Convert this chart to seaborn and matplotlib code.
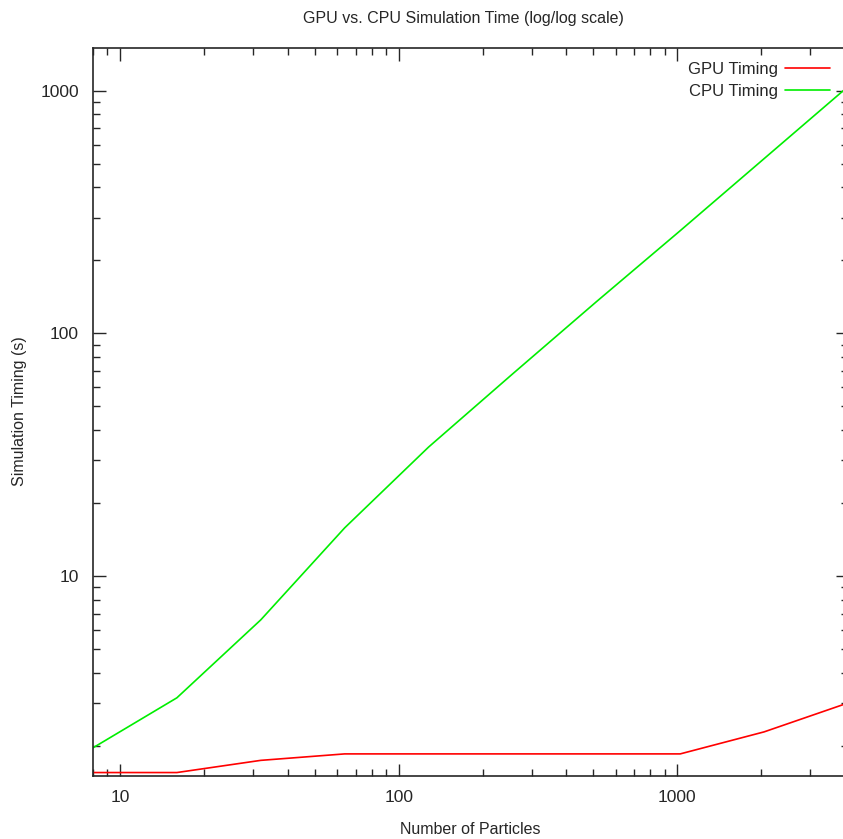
import numpy as np
import pandas as pd
import matplotlib
matplotlib.use("Agg")
import matplotlib.pyplot as plt
import seaborn as sns
from matplotlib.ticker import LogLocator, NullFormatter, FixedLocator

# particle counts and timings
particles = [8, 16, 32, 64, 128, 256, 512, 1024, 2048, 4096]
gpu_time = [1.55, 1.55, 1.74, 1.85, 1.85, 1.85, 1.85, 1.85, 2.28, 3.0]
cpu_time = [1.96, 3.15, 6.6, 15.8, 34, 68, 135, 265, 525, 1040]

df = pd.DataFrame({
    "particles": particles * 2,
    "time": gpu_time + cpu_time,
    "series": ["GPU Timing"] * len(particles) + ["CPU Timing"] * len(particles),
})

sns.set_style("ticks")
plt.rcParams["font.family"] = ["Liberation Sans", "DejaVu Sans"]

fig = plt.figure(figsize=(8.43, 8.39), dpi=100)
# right spine sits just past the picture edge, as in the original
ax = fig.add_axes([93 / 843, 1 - 776 / 839, (848 - 93) / 843, (776 - 48) / 839])

sns.lineplot(data=df, x="particles", y="time", hue="series",
             palette={"GPU Timing": "#ff0000", "CPU Timing": "#00ee00"},
             linewidth=1.2, ax=ax)

ax.set_xscale("log")
ax.set_yscale("log")
ax.set_xlim(8, 4096)
ax.set_ylim(1.5, 1500)

ax.xaxis.set_major_locator(FixedLocator([10, 100, 1000]))
ax.yaxis.set_major_locator(FixedLocator([10, 100, 1000]))
ax.set_xticklabels(["10", "100", "1000"])
ax.set_yticklabels(["10", "100", "1000"])
ax.xaxis.set_minor_locator(LogLocator(base=10, subs=np.arange(2, 10)))
ax.yaxis.set_minor_locator(LogLocator(base=10, subs=np.arange(2, 10)))
ax.xaxis.set_minor_formatter(NullFormatter())
ax.yaxis.set_minor_formatter(NullFormatter())
ax.tick_params(which="both", direction="in", top=True, right=True, labelsize=12.5, width=1)
ax.tick_params(which="major", length=9, pad=10)
ax.tick_params(which="minor", length=5)
for s in ax.spines.values():
    s.set_linewidth(1.2)

ax.set_xlabel("")
ax.set_ylabel("")
fig.text(470 / 843, 1 - 830 / 839, "Number of Particles",
         ha="center", va="center", fontsize=11.5)
fig.text(20 / 843, 1 - 411 / 839, "Simulation Timing (s)",
         ha="center", va="center", rotation=90, fontsize=11.5)
fig.text(463 / 843, 1 - 18 / 839, "GPU vs. CPU Simulation Time (log/log scale)",
         ha="center", va="center", fontsize=11.5)

handles, labels = ax.get_legend_handles_labels()
ax.legend(handles, labels, loc="upper right", bbox_to_anchor=(1, 1.006),
          frameon=False, markerfirst=False, fontsize=12, handlelength=2.7,
          handletextpad=0.4, borderaxespad=0.7, labelspacing=0.42)

fig.savefig("out.png", dpi=100)
